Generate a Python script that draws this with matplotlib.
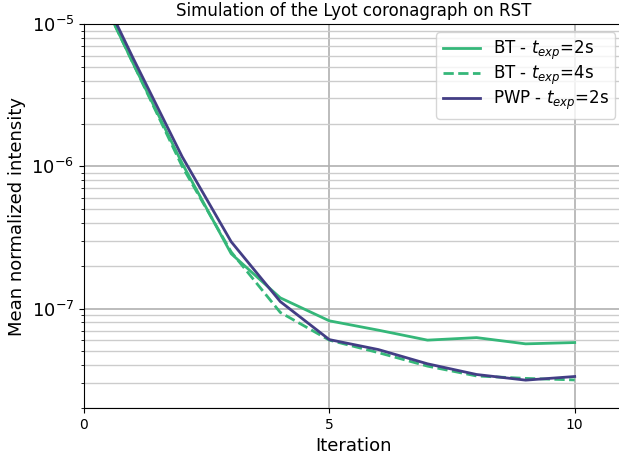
import numpy as np
import matplotlib
matplotlib.use("Agg")
import matplotlib.pyplot as plt

# values
iterations = [0, 1, 2, 3, 4, 5, 6, 7, 8, 9, 10]
bt_2s = [2.8e-5, 5.3e-6, 1.05e-6, 2.43e-7, 1.19e-7, 8.2e-8, 7.05e-8, 6.0e-8, 6.25e-8, 5.65e-8, 5.77e-8]
bt_4s = [2.8e-5, 5.3e-6, 1.0e-6, 2.5e-7, 9.4e-8, 6.0e-8, 4.9e-8, 3.94e-8, 3.36e-8, 3.23e-8, 3.15e-8]
pwp_2s = [3.0e-5, 5.77e-6, 1.17e-6, 2.95e-7, 1.12e-7, 6.05e-8, 5.15e-8, 4.09e-8, 3.44e-8, 3.14e-8, 3.33e-8]

green = '#35b779'
purple = '#433e85'

fig = plt.figure(figsize=(6.19, 4.55), dpi=100)
# the reference is cropped on the right, the axes runs a bit past the edge
ax = fig.add_axes([0.1357, 0.1033, 0.872, 0.8437])

ax.plot(iterations, bt_2s, color=green, lw=2, label=r'BT - $t_{exp}$=2s')
ax.plot(iterations, bt_4s, color=green, lw=2, ls='--', label=r'BT - $t_{exp}$=4s')
ax.plot(iterations, pwp_2s, color=purple, lw=2, label=r'PWP - $t_{exp}$=2s')

ax.set_yscale('log')
ax.set_ylim(2e-8, 1e-5)
ax.set_xlim(0, 11)
ax.set_xticks([0, 5, 10])

ax.grid(True, which='major', color='#b0b0b0', lw=1.2)
ax.grid(True, which='minor', axis='y', color='#cccccc', lw=1.0)
ax.set_axisbelow(True)

ax.tick_params(axis='x', labelsize=10)
ax.tick_params(axis='y', labelsize=13)

ax.set_xlabel('Iteration', fontsize=13)
ax.set_ylabel('Mean normalized intensity', fontsize=13)
ax.set_title('Simulation of the Lyot coronagraph on RST', fontsize=12)

ax.legend(loc='upper right', fontsize=12, handlelength=2.2, labelspacing=0.1)

fig.savefig('out.png', dpi=100)
